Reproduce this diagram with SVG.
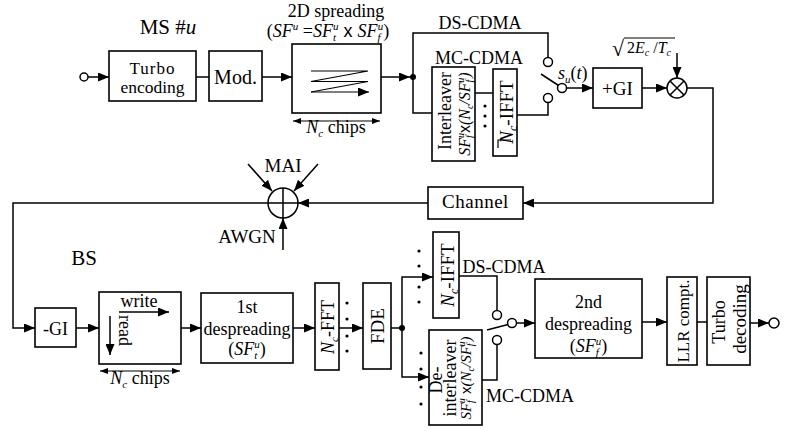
<svg xmlns="http://www.w3.org/2000/svg" width="787" height="431" viewBox="0 0 787 431">
<style>
.b{fill:#fff;stroke:#000;stroke-width:1.6}
.l{fill:none;stroke:#000;stroke-width:1.5}
.la{fill:none;stroke:#000;stroke-width:1.5;marker-end:url(#a)}
.dm{fill:none;stroke:#000;stroke-width:1.1;marker-start:url(#s);marker-end:url(#s)}
.c{fill:#fff;stroke:#000;stroke-width:1.5}
.d{fill:#000;stroke:none}
text{font-family:"Liberation Serif","Times New Roman",serif;fill:#000}
.i{font-style:italic}
.x{font-family:"Liberation Sans",Arial,sans-serif;font-style:normal}
</style>
<defs>
<marker id="a" viewBox="0 0 11 9" refX="11" refY="4.5" markerWidth="11" markerHeight="9" markerUnits="userSpaceOnUse" orient="auto"><path d="M0,0L11,4.5L0,9z" fill="#000"/></marker>
<marker id="s" viewBox="0 0 8 6" refX="8" refY="3" markerWidth="8" markerHeight="6" markerUnits="userSpaceOnUse" orient="auto-start-reverse"><path d="M0,0L8,3L0,6z" fill="#000"/></marker>
</defs>
<rect width="787" height="431" fill="#fff"/>
<g font-size="18" font-family="Liberation Serif, Times New Roman, serif">

<g id="connectors">
<path class="la" d="M88,77H109"/>
<path class="l" d="M196,77H209"/>
<path class="la" d="M262,77H292"/>
<path class="la" d="M381,77H410"/>
<path class="l" d="M413,77V33H548V57.5"/>
<path class="l" d="M413,77V113H432"/>
<path class="l" d="M475,93H493"/>
<path class="l" d="M517,115H548V102.5"/>
<path class="l" d="M541,74L558.5,85.5"/>
<path class="la" d="M566.5,88H593"/>
<path class="la" d="M642,88H667"/>
<path class="la" d="M677,53V78"/>
<path class="la" d="M687,88H713V203H523"/>
<path class="la" d="M428,203H298"/>
<path class="la" d="M248,164L272,191"/>
<path class="la" d="M318,164L294,191"/>
<path class="la" d="M283,250V218"/>
<path class="la" d="M268,203H13V328H35"/>
<path class="la" d="M76,328H99"/>
<path class="la" d="M181,328H201"/>
<path class="la" d="M293,328H315"/>
<path class="la" d="M339,328H363"/>
<path class="l" d="M391,328H402"/>
<path class="la" d="M402,328V277H433"/>
<path class="la" d="M402,328V377H429"/>
<path class="l" d="M459,276H497V310.5"/>
<path class="l" d="M482,380H497V344.5"/>
<path class="l" d="M487,330L508,324.5"/>
<path class="la" d="M516.5,323H535"/>
<path class="la" d="M642,322H667"/>
<path class="l" d="M697,322H707"/>
<path class="la" d="M750,323H769"/>
<circle class="d" cx="413" cy="77" r="3"/>
<circle class="d" cx="402" cy="328" r="3"/>
</g>

<g id="ms_label"><text x="168" y="34" font-size="21" text-anchor="middle">MS #<tspan class="i">u</tspan></text></g>

<g id="input"><circle class="c" cx="84" cy="77" r="4"/></g>

<g id="turbo_encoding">
<rect class="b" x="109" y="51" width="87" height="50"/>
<text x="152.5" y="74" font-size="17" text-anchor="middle" letter-spacing="1">Turbo</text>
<text x="152.5" y="93" font-size="17.5" text-anchor="middle">encoding</text>
</g>

<g id="mod">
<rect class="b" x="209" y="51" width="53" height="50"/>
<text x="235.5" y="84" font-size="20" text-anchor="middle">Mod.</text>
</g>

<g id="spreading_2d">
<text x="336" y="17" text-anchor="middle">2D spreading</text>
<text x="328" y="37" text-anchor="middle">(<tspan class="i">SF</tspan><tspan class="i" font-size="11" dy="-7">u</tspan><tspan dy="7"> =</tspan><tspan class="i">SF</tspan><tspan class="i" font-size="11" dy="4">t</tspan><tspan class="i" font-size="11" dx="-3" dy="-11">u</tspan><tspan class="x" dy="7"> x </tspan><tspan class="i">SF</tspan><tspan class="i" font-size="11" dy="4">f</tspan><tspan class="i" font-size="11" dx="-3" dy="-11">u</tspan><tspan dy="7">)</tspan></text>
<rect class="b" x="292" y="44" width="89" height="69"/>
<path fill="none" stroke="#000" stroke-width="1.2" d="M311,71H368L311,81.5H368L311,92"/>
<path fill="none" stroke="#000" stroke-width="1.2" marker-end="url(#a)" d="M311,92H369"/>
<path class="dm" d="M293,121H380"/>
<text x="336" y="133" text-anchor="middle"><tspan class="i">N</tspan><tspan class="i" font-size="11" dy="4">c</tspan><tspan dy="-4"> chips</tspan></text>
</g>

<g id="ds_label_top"><text x="480" y="29" text-anchor="middle">DS-CDMA</text></g>
<g id="mc_label_top"><text x="479" y="64" text-anchor="middle">MC-CDMA</text></g>

<g id="interleaver">
<rect class="b" x="432" y="67" width="43" height="94"/>
<text transform="translate(451,111) rotate(-90)" text-anchor="middle">Interleaver</text>
<text class="i" font-size="16" transform="translate(470,114) rotate(-90)" text-anchor="middle">SF<tspan font-size="10" dy="3">f</tspan><tspan font-size="10" dx="-3" dy="-9">u</tspan><tspan class="x" dy="6">x</tspan>(N<tspan font-size="10" dy="3">c</tspan><tspan dy="-3">/SF</tspan><tspan font-size="10" dy="3">f</tspan><tspan font-size="10" dx="-3" dy="-9">u</tspan><tspan dy="6">)</tspan></text>
<circle class="d" cx="485" cy="106" r="1.6"/>
<circle class="d" cx="485" cy="116" r="1.6"/>
<circle class="d" cx="485" cy="126" r="1.6"/>
</g>

<g id="ifft_top">
<rect class="b" x="493" y="69" width="24" height="87"/>
<text font-size="19" transform="translate(513,112) rotate(-90)" text-anchor="middle"><tspan class="i">N</tspan><tspan class="i" font-size="12" dy="4">c</tspan><tspan dy="-4">-IFFT</tspan></text>
<path fill="none" stroke="#000" stroke-width="1.2" d="M498,148V140H511"/>
</g>

<g id="switch_top">
<circle class="c" cx="548" cy="62" r="4.5"/>
<circle class="c" cx="548" cy="98" r="4.5"/>
<circle class="c" cx="562" cy="88" r="4.5"/>
<text x="558" y="79"><tspan class="i">s</tspan><tspan class="i" font-size="11" dy="4">u</tspan><tspan dy="-4">(</tspan><tspan class="i">t</tspan>)</text>
</g>

<g id="add_gi">
<rect class="b" x="593" y="68" width="49" height="40"/>
<text x="617.5" y="95" font-size="19" text-anchor="middle">+GI</text>
</g>

<g id="multiplier">
<text x="612" y="56" font-size="22">√</text>
<path fill="none" stroke="#000" stroke-width="1.1" d="M624,38H675"/>
<text x="627" y="53" font-size="16">2<tspan class="i">E</tspan><tspan class="i" font-size="10" dy="3">c</tspan><tspan dy="-3"> /</tspan><tspan class="i">T</tspan><tspan class="i" font-size="10" dy="3">c</tspan></text>
<circle class="c" cx="677" cy="88" r="10"/>
<path class="l" d="M670,81L684,95M684,81L670,95"/>
</g>

<g id="channel">
<rect class="b" x="428" y="187" width="95" height="32"/>
<text x="475.5" y="208" font-size="19" text-anchor="middle" letter-spacing="0.5">Channel</text>
</g>

<g id="sum">
<circle class="c" cx="283" cy="203" r="15"/>
<path class="l" d="M268,203H298M283,188V218"/>
<text x="283" y="172" font-size="19" text-anchor="middle">MAI</text>
<text x="247" y="243" font-size="19" text-anchor="middle">AWGN</text>
</g>

<g id="bs_label"><text x="84" y="265" font-size="21" text-anchor="middle">BS</text></g>

<g id="remove_gi">
<rect class="b" x="35" y="308" width="41" height="39"/>
<text x="55.5" y="335" text-anchor="middle">-GI</text>
</g>

<g id="rw_buffer">
<rect class="b" x="99" y="292" width="82" height="72"/>
<text x="139" y="307" text-anchor="middle">write</text>
<path class="la" d="M119,312H169"/>
<text transform="translate(119,315) rotate(90)">read</text>
<path class="la" d="M110,316V355"/>
<path class="dm" d="M100,371H180"/>
<text x="140" y="384" text-anchor="middle"><tspan class="i">N</tspan><tspan class="i" font-size="11" dy="4">c</tspan><tspan dy="-4"> chips</tspan></text>
</g>

<g id="despreading_1">
<rect class="b" x="201" y="293" width="92" height="70"/>
<text x="247" y="313" text-anchor="middle">1st</text>
<text x="247" y="335" text-anchor="middle">despreading</text>
<text x="247" y="355" text-anchor="middle">(<tspan class="i">SF</tspan><tspan class="i" font-size="11" dy="4">t</tspan><tspan class="i" font-size="11" dx="-3" dy="-11">u</tspan><tspan dy="7">)</tspan></text>
</g>

<g id="fft">
<rect class="b" x="315" y="283" width="24" height="87"/>
<text transform="translate(334,327) rotate(-90)" text-anchor="middle"><tspan class="i">N</tspan><tspan class="i" font-size="11" dy="4">c</tspan><tspan dy="-4">-FFT</tspan></text>
<circle class="d" cx="347" cy="303" r="1.6"/>
<circle class="d" cx="347" cy="319" r="1.6"/>
<circle class="d" cx="347" cy="336" r="1.6"/>
<circle class="d" cx="347" cy="351" r="1.6"/>
</g>

<g id="fde">
<rect class="b" x="363" y="283" width="28" height="86"/>
<text font-size="19" transform="translate(384,326) rotate(-90)" text-anchor="middle">FDE</text>
</g>

<g id="ifft_bottom">
<rect class="b" x="433" y="232" width="26" height="86"/>
<text font-size="19" transform="translate(454,275) rotate(-90)" text-anchor="middle"><tspan class="i">N</tspan><tspan class="i" font-size="12" dy="4">c</tspan><tspan dy="-4">-IFFT</tspan></text>
<circle class="d" cx="419" cy="251" r="1.6"/>
<circle class="d" cx="419" cy="266" r="1.6"/>
<circle class="d" cx="419" cy="287" r="1.6"/>
<circle class="d" cx="419" cy="302" r="1.6"/>
</g>
<g id="ds_label_bottom"><text x="504" y="273" text-anchor="middle">DS-CDMA</text></g>

<g id="deinterleaver">
<rect class="b" x="429" y="330" width="53" height="95"/>
<text transform="translate(442,380) rotate(-90)" text-anchor="middle">De-</text>
<text transform="translate(456,378) rotate(-90)" text-anchor="middle">interleaver</text>
<text class="i" font-size="15" transform="translate(471,378) rotate(-90)" text-anchor="middle">SF<tspan font-size="10" dy="3">f</tspan><tspan font-size="10" dx="-3" dy="-9">u</tspan><tspan class="x" dy="6"> x</tspan>(N<tspan font-size="10" dy="3">c</tspan><tspan dy="-3">/SF</tspan><tspan font-size="10" dy="3">f</tspan><tspan font-size="10" dx="-3" dy="-9">u</tspan><tspan dy="6">)</tspan></text>
<circle class="d" cx="421" cy="353" r="1.6"/>
<circle class="d" cx="421" cy="369" r="1.6"/>
<circle class="d" cx="421" cy="387" r="1.6"/>
<circle class="d" cx="421" cy="404" r="1.6"/>
</g>
<g id="mc_label_bottom"><text x="530" y="402" text-anchor="middle">MC-CDMA</text></g>

<g id="switch_bottom">
<circle class="c" cx="497" cy="315" r="4.5"/>
<circle class="c" cx="497" cy="340" r="4.5"/>
<circle class="c" cx="512" cy="323" r="4.5"/>
</g>

<g id="despreading_2">
<rect class="b" x="535" y="279" width="107" height="79"/>
<text x="588.5" y="308" text-anchor="middle">2nd</text>
<text x="588.5" y="330" text-anchor="middle">despreading</text>
<text x="588.5" y="352" text-anchor="middle">(<tspan class="i">SF</tspan><tspan class="i" font-size="11" dy="4">f</tspan><tspan class="i" font-size="11" dx="-3" dy="-11">u</tspan><tspan dy="7">)</tspan></text>
</g>

<g id="llr">
<rect class="b" x="667" y="277" width="30" height="88"/>
<text font-size="17" transform="translate(689,321) rotate(-90)" text-anchor="middle">LLR compt.</text>
</g>

<g id="turbo_decoding">
<rect class="b" x="707" y="277" width="43" height="88"/>
<text transform="translate(725,322) rotate(-90)" text-anchor="middle">Turbo</text>
<text font-size="19" transform="translate(746,319) rotate(-90)" text-anchor="middle">decoding</text>
</g>

<g id="output"><circle class="c" cx="774" cy="323" r="5"/></g>
</g>
</svg>
